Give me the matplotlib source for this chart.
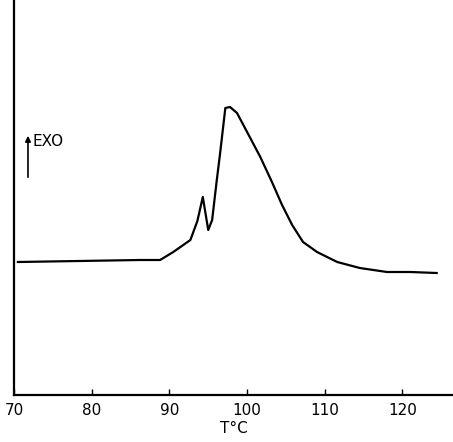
import numpy as np
import matplotlib.pyplot as plt

temp = np.array([70.5, 86.2, 88.8, 90.5, 92.7, 93.6, 94.3, 95.0, 95.5, 96.1, 96.5, 97.2,
                 97.8, 98.7, 100.0, 101.7, 103.2, 104.5, 105.8, 107.2, 109.0, 111.6,
                 114.5, 118.0, 121.0, 124.4])
heat = np.array([133, 135, 135, 143, 155, 174, 198, 165, 175, 215, 240, 287,
                 288, 282, 263, 238, 213, 190, 170, 153, 143, 133,
                 127, 123, 123, 122])
xticks = [70, 80, 90, 100, 110, 120]

fig = plt.figure(figsize=(4.53, 4.42), dpi=100)
ax = fig.add_axes([14 / 453, 47 / 442, 1 - 14 / 453, 395 / 442])
ax.plot(temp, heat, color='black', lw=1.6, solid_joinstyle='round')

ax.set_xlim(70, 126.5)
ax.set_ylim(0, 395)
ax.set_xticks(xticks)
ax.set_yticks([])
ax.tick_params(axis='x', direction='in', length=4, width=1, labelsize=11, pad=6)
for s in ['top', 'right']:
    ax.spines[s].set_visible(False)
for s in ['left', 'bottom']:
    ax.spines[s].set_linewidth(1.6)

ax.annotate('', xy=(71.8, 262), xytext=(71.8, 215),
            arrowprops=dict(arrowstyle='-|>', color='black', lw=1.2, mutation_scale=8))
ax.text(72.4, 253, 'EXO', fontsize=11, va='center', ha='left')
ax.set_xlabel('T°C', fontsize=11, labelpad=2)

fig.savefig('out.png', dpi=100)
